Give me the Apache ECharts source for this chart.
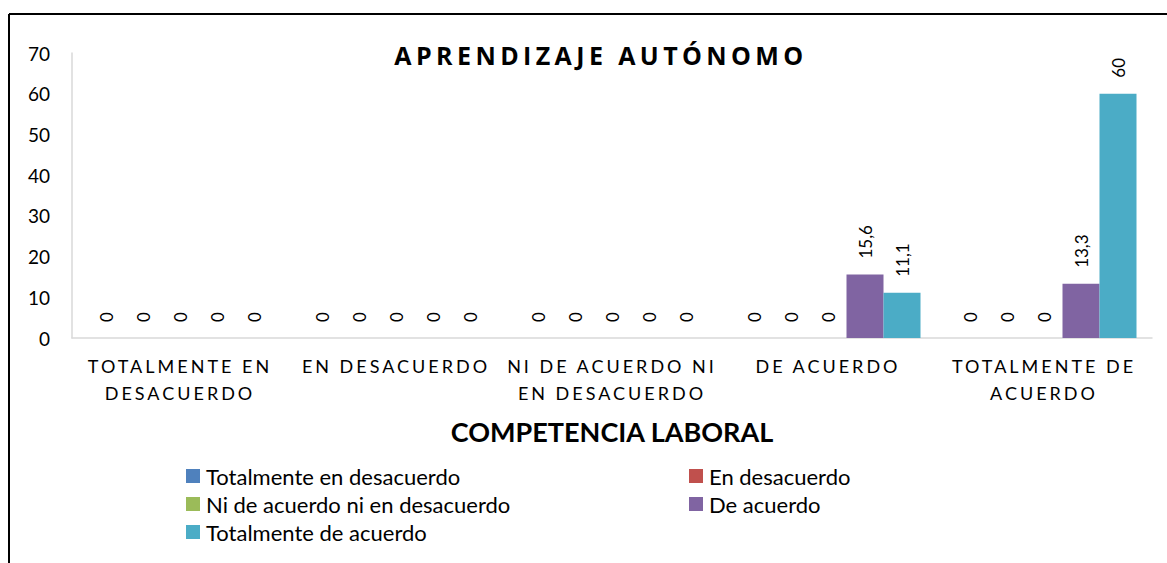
<!DOCTYPE html>
<html>
<head>
<meta charset="utf-8">
<script src="https://cdn.jsdelivr.net/npm/echarts@6/dist/echarts.min.js"></script>
<style>
  html, body { margin: 0; padding: 0; background: #fff; }
  #chart { width: 1167px; height: 563px; }
</style>
</head>
<body>
<div id="chart"></div>
<script>
const categories = [
  "TOTALMENTE EN\nDESACUERDO",
  "EN DESACUERDO",
  "NI DE ACUERDO NI\nEN DESACUERDO",
  "DE ACUERDO",
  "TOTALMENTE DE\nACUERDO"
];
const seriesNames = [
  "Totalmente en desacuerdo",
  "En desacuerdo",
  "Ni de acuerdo ni en desacuerdo",
  "De acuerdo",
  "Totalmente de acuerdo"
];
const totDesacuerdo = [0, 0, 0, 0, 0];
const enDesacuerdo = [0, 0, 0, 0, 0];
const niNi = [0, 0, 0, 0, 0];
const deAcuerdo = [0, 0, 0, 15.6, 13.3];
const totAcuerdo = [0, 0, 0, 11.1, 60];
const colors = ["#4F81BD", "#C0504D", "#9BBB59", "#8064A2", "#4BACC6"];

const TITLE = "APRENDIZAJE AUTÓNOMO";
const allData = [totDesacuerdo, enDesacuerdo, niNi, deAcuerdo, totAcuerdo];
const chart = echarts.init(document.getElementById("chart"), null, { renderer: "svg" });

const series = allData.map((vals, i) => ({
  name: seriesNames[i],
  type: "bar",
  barWidth: 37,
  barGap: "0%",
  itemStyle: { color: colors[i] },
  label: {
    show: true,
    position: "top",
    rotate: 90,
    align: "left",
    verticalAlign: "middle",
    distance: 16,
    fontFamily: "Lato",
    fontSize: 17,
    color: "#000",
    formatter: (p) => String(p.value).replace(".", ",")
  },
  data: vals
}));

const legendBase = {
  orient: "vertical", top: 465, itemGap: 6, padding: 0,
  itemWidth: 14, itemHeight: 14, icon: "rect",
  textStyle: { fontFamily: "Lato", fontSize: 22, lineHeight: 22, color: "#000", padding: [0, 0, 0, 1] }
};

chart.setOption({
  animation: false,
  color: colors,
  title: {
    text: TITLE,
    left: 596,
    top: 37,
    textAlign: "center",
    textStyle: { fontFamily: "Open Sans", fontWeight: "bold", fontSize: 25, color: "#000" }
  },
  grid: { left: 72, right: 15, top: 53, bottom: 225, containLabel: false },
  legend: [
    Object.assign({}, legendBase, { left: 186, data: [seriesNames[0], seriesNames[2], seriesNames[4]] }),
    Object.assign({}, legendBase, { left: 689, data: [seriesNames[1], seriesNames[3]] })
  ],
  xAxis: {
    type: "category",
    data: categories,
    name: "COMPETENCIA LABORAL",
    nameLocation: "middle",
    nameGap: 80,
    nameTextStyle: { fontFamily: "Lato", fontWeight: "bold", fontSize: 27, color: "#000" },
    axisLine: { lineStyle: { color: "#D9D9D9", width: 1.5 } },
    axisTick: { show: false },
    axisLabel: {
      interval: 0, margin: 14, lineHeight: 27,
      fontFamily: "Lato", fontSize: 18, color: "#000"
    }
  },
  yAxis: {
    type: "value",
    min: 0, max: 70, interval: 10,
    axisLine: { show: true, lineStyle: { color: "#D9D9D9", width: 1.5 } },
    axisTick: { show: false },
    splitLine: { show: false },
    axisLabel: { margin: 22, fontFamily: "Lato", fontSize: 19, color: "#000" }
  },
  graphic: [
    { type: "line", shape: { x1: 9, y1: 14, x2: 1167, y2: 14 }, style: { stroke: "#000", lineWidth: 2 } },
    { type: "line", shape: { x1: 9, y1: 14, x2: 9, y2: 563 }, style: { stroke: "#000", lineWidth: 2 } }
  ],
  series: series
});

// espaciado de letras como en el original (título y categorías)
const catLines = categories.join("\n").split("\n");
function spaceLetters() {
  document.querySelectorAll("#chart svg text").forEach((t) => {
    const s = t.textContent;
    if (s === TITLE) t.setAttribute("letter-spacing", "4.4");
    else if (catLines.indexOf(s) >= 0) t.setAttribute("letter-spacing", "3");
  });
}
chart.on("finished", spaceLetters);
spaceLetters();
</script>
</body>
</html>
